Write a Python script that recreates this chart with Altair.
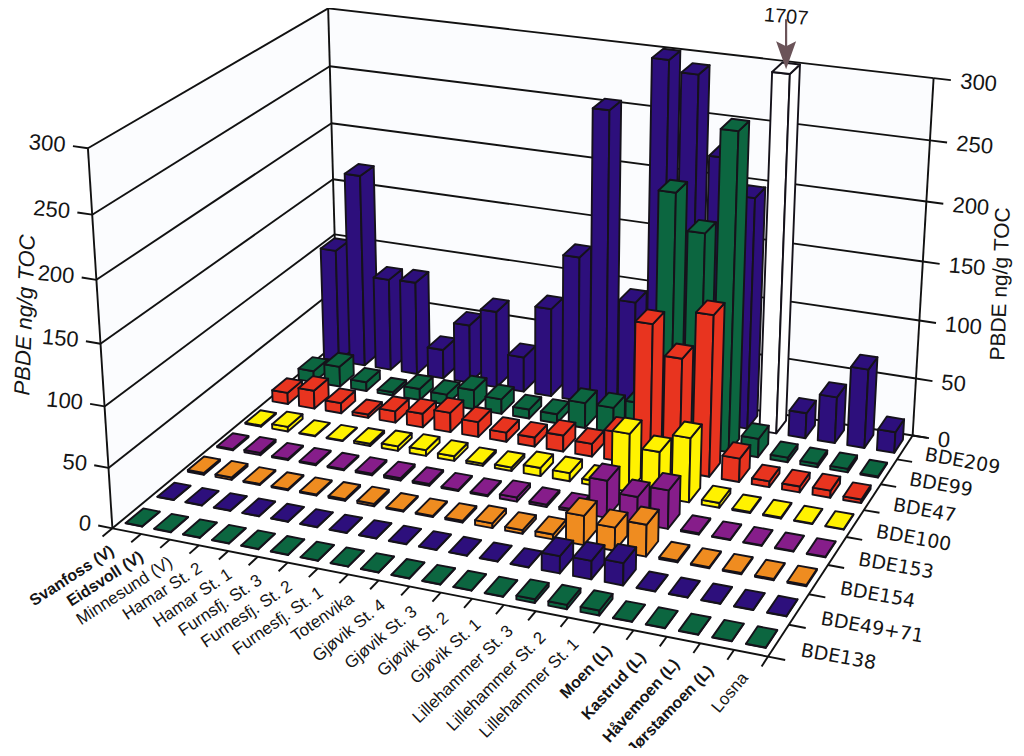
import numpy as np
import pandas as pd
import altair as alt

# ---------- data ----------
categories = ["Svanfoss (V)", "Eidsvoll (V)", "Minnesund (V)", "Hamar St. 2", "Hamar St. 1",
              "Furnsfj. St. 3", "Furnesfj. St. 2", "Furnesfj. St. 1", "Totenvika", "Gjøvik St. 4",
              "Gjøvik St. 3", "Gjøvik St. 2", "Gjøvik St. 1", "Lillehammer St. 3", "Lillehammer St. 2",
              "Lillehammer St. 1", "Moen (L)", "Kastrud (L)", "Håvemoen (L)", "Jørstamoen (L)", "Losna"]
bold_categories = ["Svanfoss (V)", "Eidsvoll (V)", "Moen (L)", "Kastrud (L)", "Håvemoen (L)", "Jørstamoen (L)"]
series = ["BDE209", "BDE99", "BDE47", "BDE100", "BDE153", "BDE154", "BDE49+71", "BDE138"]
colors = ["#2d0f7c", "#0c6640", "#e8341f", "#fff200", "#861d8a", "#ef8c20", "#2d0f7c", "#0c6640"]
BDE209 = [101, 171, 82, 83, 26, 52, 68, 31, 78, 127, 255, 95, 302, 293, 228, 198, 1707, 22, 40, 68, 18]
BDE99 = [10, 18, 8, 3, 10, 9, 17, 13, 8, 8, 22, 22, 30, 212, 182, 268, 16, 4, 3, 3, 1]
BDE47 = [10, 16, 9, 3, 10, 12, 17, 13, 8, 8, 14, 11, 25, 121, 96, 136, 20, 5, 5, 6, 3]
BDE100 = [1, 4, 0.5, 0.5, 2, 4, 5, 4, 2, 3, 7, 7, 4, 49, 38, 54, 4, 1, 1, 0.5, 0.5]
BDE153 = [1, 2, 1, 1, 1, 1.5, 2, 1.5, 1, 1, 3.5, 2, 2, 31, 22, 32, 1, 0.5, 0.5, 0.5, 0.5]
BDE154 = [1.5, 2, 1, 1, 1, 1.5, 2, 1, 1, 1.5, 4, 3, 4, 24, 19, 26, 1.5, 1, 1, 1, 1]
BDE4971 = [0.3, 0.3, 0.3, 0.3, 0.3, 0.3, 0.3, 0.3, 0.3, 0.3, 0.3, 0.3, 0.3, 14, 15, 18, 0.3, 0.3, 0.3, 0.3, 0.3]
BDE138 = [0.3, 0.3, 0.3, 0.3, 0.3, 0.3, 0.3, 0.3, 0.3, 0.3, 0.3, 0.3, 0.3, 3, 3.5, 4, 0.3, 0.3, 0.3, 0.3, 0.3]
rows = [BDE209, BDE99, BDE47, BDE100, BDE153, BDE154, BDE4971, BDE138]
z_ticks = [0, 50, 100, 150, 200, 250, 300]
label_angles = [33, 33, 33, 33, 34, 34, 34, 35, 35, 39, 40, 41, 42, 44, 45, 45, 46, 47, 48, 46, 50]

AXIS_CAP = 302          # the broken bar stops here
BREAK_OVER = 1000
NU, NV = len(categories), len(series)

# ---------- camera calibrated on the box frame ----------
frame = [((0, 0, 0), (112, 528)), ((0, 0, 50), (108, 468)), ((0, 0, 100), (105, 406)), ((0, 0, 200), (97, 280)),
         ((0, 0, 250), (92, 215)), ((0, 0, 300), (88, 148)), ((0, NV, 300), (328, 7)), ((0, NV, 250), (330, 67)),
         ((0, NV, 200), (331, 123)), ((0, NV, 150), (333, 180)), ((0, NV, 100), (335, 235)),
         ((NU, NV, 300), (933, 78)), ((NU, NV, 250), (930, 140)), ((NU, NV, 200), (927, 202)),
         ((NU, NV, 100), (919, 322)), ((NU, NV, 50), (916, 378)), ((NU, NV, 0), (913, 434)), ((NU, 0, 0), (768, 657))]
w = np.ones(len(frame))
for _ in range(25):
    A, b = [], []
    for k, ((u, v, z), (px, py)) in enumerate(frame):
        A.append(np.array([u, v, z, 1, 0, 0, 0, 0, -px * u, -px * v, -px * z]) / w[k]); b.append(px / w[k])
        A.append(np.array([0, 0, 0, 0, u, v, z, 1, -py * u, -py * v, -py * z]) / w[k]); b.append(py / w[k])
    m = np.linalg.lstsq(np.array(A, float), np.array(b, float), rcond=None)[0]
    P = np.append(m, 1.0).reshape(3, 4)
    w = np.array([(P @ np.array([u, v, z, 1.0]))[2] for (u, v, z), _p in frame])


def proj(u, v, z=0.0):
    q = P @ np.array([u, v, z, 1.0])
    return [float(q[0] / q[2]) - 8.0, float(q[1] / q[2]) - 8.0]


def poly(points, fill):
    ring = [proj(*p) for p in points]
    ring.append(ring[0])
    return {"type": "Feature", "properties": {"fill": fill}, "geometry": {"type": "Polygon", "coordinates": [ring]}}


def segment(a, b_):
    return {"type": "Feature", "properties": {}, "geometry": {"type": "LineString", "coordinates": [proj(*a), proj(*b_)]}}


def fc(features):
    return alt.InlineData(values={"type": "FeatureCollection", "features": features},
                          format=alt.DataFormat(property="features", type="json"))


GEO = dict(type="identity", scale=1, translate=[0, 0])
ZMAX = z_ticks[-1]

# ---------- walls, grid, ticks ----------
walls = [poly([(0, 0, 0), (0, NV, 0), (0, NV, ZMAX), (0, 0, ZMAX)], "#fbfcfe"),
         poly([(0, NV, 0), (NU, NV, 0), (NU, NV, ZMAX), (0, NV, ZMAX)], "#fbfcfe"),
         poly([(0, 0, 0), (NU, 0, 0), (NU, NV, 0), (0, NV, 0)], "#ffffff")]
lines = []
for z in z_ticks:
    lines.append(segment((-0.5, 0, z), (0, 0, z)))
    lines.append(segment((0, 0, z), (0, NV, z)))
    lines.append(segment((0, NV, z), (NU, NV, z)))
    lines.append(segment((NU, NV, z), (NU + 0.55, NV, z)))
lines += [segment((0, 0, 0), (0, 0, ZMAX)), segment((0, NV, 0), (0, NV, ZMAX)), segment((NU, NV, 0), (NU, NV, ZMAX)),
          segment((0, 0, 0), (NU, 0, 0)), segment((NU, 0, 0), (NU, NV, 0))]
for i in range(NU + 1):
    lines.append(segment((i, 0, 0), (i, -0.3, 0)))
for j in range(NV + 1):
    lines.append(segment((NU, j, 0), (NU + 0.5, j, 0)))

# ---------- bars ----------
A_U, A_V = 0.58, 0.55
bars = []
for r, vals in enumerate(rows):
    v = NV - 1 - r
    v0, v1 = v + 0.5 - A_V / 2, v + 0.5 + A_V / 2
    for i, val in enumerate(vals):
        h = AXIS_CAP if val > BREAK_OVER else val
        fill = "#ffffff" if val > BREAK_OVER else colors[r]
        u0, u1 = i + 0.5 - A_U / 2, i + 0.5 + A_U / 2
        bars.append(poly([(u0, v0, 0), (u1, v0, 0), (u1, v0, h), (u0, v0, h)], fill))
        bars.append(poly([(u1, v0, 0), (u1, v1, 0), (u1, v1, h), (u1, v0, h)], fill))
        bars.append(poly([(u0, v0, h), (u1, v0, h), (u1, v1, h), (u0, v1, h)], fill))

# ---------- arrow pointing at the broken bar ----------
iw = int(np.argmax(BDE209))
ax, ay = proj(iw + 0.5, NV - 0.5, AXIS_CAP)
arrow_head = {"type": "Feature", "properties": {"fill": "#6b5459"}, "geometry": {"type": "Polygon", "coordinates": [
    [[ax - 10, ay - 27], [ax, ay - 22], [ax + 10, ay - 27], [ax, ay + 1], [ax - 10, ay - 27]]]}}
arrow_shaft = {"type": "Feature", "properties": {}, "geometry": {"type": "LineString",
               "coordinates": [[ax, ay - 49], [ax, ay - 20]]}}

# ---------- layers ----------
base = lambda feats: alt.Chart(fc(feats))
fill_enc = alt.Fill("properties.fill:N", scale=None)
layers = [
    base(walls).mark_geoshape(strokeWidth=0).encode(fill=fill_enc).project(**GEO),
    base(lines).mark_geoshape(filled=False, stroke="#111111", strokeWidth=1.9).project(**GEO),
    base(bars).mark_geoshape(stroke="#15121a", strokeWidth=1.9, strokeJoin="round").encode(fill=fill_enc).project(**GEO),
    base([arrow_shaft]).mark_geoshape(filled=False, stroke="#6b5459", strokeWidth=2.2).project(**GEO),
    base([arrow_head]).mark_geoshape(strokeWidth=0).encode(fill=fill_enc).project(**GEO),
]


def text_layer(rows_, align, size, **kw):
    df = pd.DataFrame(rows_, columns=["lon", "lat", "t", "a"])
    font = kw.pop("font", "Liberation Sans")
    return alt.Chart(df).mark_text(align=align, baseline="middle", font=font, fontSize=size, color="#151515", **kw).encode(
        longitude="lon:Q", latitude="lat:Q", text="t:N", angle=alt.Angle("a:Q", scale=None)).project(**GEO)


cat_reg, cat_bold = [], []
for i, c in enumerate(categories):
    x, y = proj(i + 0.72, -0.62, 0)
    (cat_bold if c in bold_categories else cat_reg).append((x, y, c, (360 - label_angles[i]) % 360))
layers.append(text_layer(cat_reg, "right", 17))
layers.append(text_layer(cat_bold, "right", 16, fontWeight="bold"))

ser_rows = []
for r, s in enumerate(series):
    x, y = proj(NU + 0.75, NV - 1 - r + 0.35, 0)
    ser_rows.append((x, y, s, 10))
layers.append(text_layer(ser_rows, "left", 19, font="DejaVu Sans"))

left_rows = [(*proj(-0.75, 0, z), str(z), 5) for z in z_ticks]
right_rows = [(*proj(NU + 0.85, NV, z), str(z), 5) for z in z_ticks]
layers.append(text_layer(left_rows, "right", 22))
layers.append(text_layer(right_rows, "left", 22))
layers.append(text_layer([(ax, 9, "1707", 5)], "center", 20))
layers.append(text_layer([(17, 307, "PBDE ng/g TOC", 272)], "center", 22, fontStyle="italic"))
layers.append(text_layer([(993, 276, "PBDE ng/g TOC", 272)], "center", 21))

chart = alt.layer(*layers).properties(width=1008, height=740, padding=0,
                                      autosize=alt.AutoSizeParams(type="none")).configure_view(stroke=None)
chart.save("out.html", embed_options={"renderer": "svg", "actions": False})
